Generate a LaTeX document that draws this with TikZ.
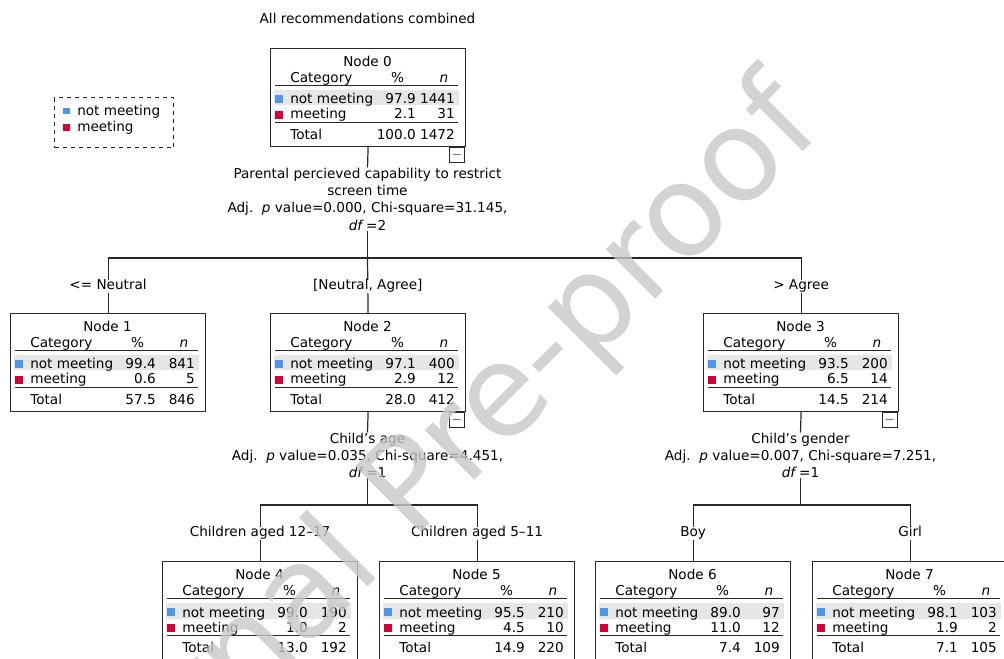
\documentclass[tikz,border=0pt]{standalone}
\usepackage{fontspec}
\setmainfont{DejaVu Sans}
\definecolor{notmeet}{RGB}{80,150,232}
\definecolor{meet}{RGB}{214,0,52}
\definecolor{band}{RGB}{230,230,230}
\definecolor{rule}{RGB}{40,40,40}
\definecolor{wmgray}{RGB}{200,200,200}

\begin{document}
\begin{tikzpicture}[x=0.75pt,y=-0.75pt,
  every node/.style={inner sep=0pt,font=\fontsize{10.2}{13}\selectfont},
  box/.style={draw=rule,line width=0.9pt,minimum width=146.25pt,minimum height=73.5pt,anchor=north west},
  tline/.style={draw=rule,line width=1pt},
  conn/.style={draw=rule,line width=0.9pt},
  sq/.style={minimum size=5pt},
  lab/.style={fill=white,inner xsep=1pt,text height=7.5pt,text depth=2.25pt},
  split/.style={align=center,anchor=north},
  minus/.style={draw=rule,line width=0.8pt,minimum size=11.25pt,anchor=north east},
  legbox/.style={draw=rule,dashed,line width=0.8pt,minimum width=89.25pt,minimum height=37.5pt,anchor=north west},
  wmark/.style={text=wmgray,opacity=0.8,font=\fontsize{96}{96}\selectfont}]

  \useasboundingbox (0,0) rectangle (1004,659);
  \clip (0,0) rectangle (1004,659);

  \node[anchor=base] (title) at (367.5,24) {All recommendations combined};

  % legend
  \node[legbox] (leg) at (54,97) {};
  \node[sq,fill=notmeet] (q1) at (66.7,111) {};
  \node[sq,fill=meet] (q2) at (66.7,127.5) {};
  \node[anchor=base west] (t1) at (77,115.5) {not meeting};
  \node[anchor=base west] (t2) at (77,132) {meeting};

  % category boxes
  \foreach \k/\x/\y/\pa/\na/\pb/\nb/\ta/\tn in {
      0/270/48/97.9/1441/2.1/31/100.0/1472,
      1/10/313/99.4/841/0.6/5/57.5/846,
      2/270/313/97.1/400/2.9/12/28.0/412,
      3/703/313/93.5/200/6.5/14/14.5/214,
      4/162/561/99.0/190/1.0/2/13.0/192,
      5/379/561/95.5/210/4.5/10/14.9/220,
      6/595/561/89.0/97/11.0/12/7.4/109,
      7/812/561/98.1/103/1.9/2/7.1/105}{
    \node[box] (n\k) at (\x,\y) {};
    \begin{scope}[shift={(n\k.north west)}]
      \fill[band] (4,42) rectangle (189,57.5);
      \draw[tline] (5,37.5) -- (188,37.5) (5,74.5) -- (188,74.5);
      \fill[notmeet] (5,47) rectangle (13,55);
      \fill[meet] (5,63) rectangle (13,71);
      \node[anchor=base] (n\k-h) at (97.5,18.5) {Node \k};
      \node[anchor=base west] (n\k-c) at (20,34.5) {Category};
      \node[anchor=base] (n\k-p) at (127.5,34.5) {\%};
      \node[anchor=base east] (n\k-n) at (178.5,34.5) {\textit{n}};
      \node[anchor=base west] (n\k-a) at (20,56) {not meeting};
      \node[anchor=base east] (n\k-pa) at (146,56) {\pa};
      \node[anchor=base east] (n\k-na) at (185,56) {\na};
      \node[anchor=base west] (n\k-b) at (20,71) {meeting};
      \node[anchor=base east] (n\k-pb) at (146,71) {\pb};
      \node[anchor=base east] (n\k-nb) at (185,71) {\nb};
      \node[anchor=base west] (n\k-t) at (20,91.5) {Total};
      \node[anchor=base east] (n\k-pt) at (146,91.5) {\ta};
      \node[anchor=base east] (n\k-nt) at (185,91.5) {\tn};
    \end{scope}
  }
  \foreach \k in {0,2,3}
    \node[minus,xshift=-1.1pt] (m\k) at (n\k.south east) {$-$};

  % first split
  \node[split] (s0) at (367.5,167.5) {Parental percieved capability to restrict\\
    screen time\\Adj.\ \ \textit{p} value=0.000, Chi-square=31.145,\\\textit{df}\,=2};
  \coordinate (b0) at (367.5,258);
  \draw[conn] (n0.south) -- (s0.north);
  \draw[conn] (s0.south) -- (b0);
  \draw[conn] (b0) -| node[lab,pos=0.755] (e1) {<= Neutral} (n1.north);
  \draw[conn] (b0) -- node[lab,pos=0.51] (e2) {[Neutral, Agree]} (n2.north);
  \draw[conn] (b0) -| node[lab,pos=0.755] (e3) {> Agree} (n3.north);

  % second level
  \node[split] (s2) at (367.5,432.5) {Child's age\\
    Adj.\ \ \textit{p} value=0.035, Chi-square=4.451,\\\textit{df}\,=1};
  \coordinate (b2) at (367.5,505);
  \draw[conn] (n2.south) -- (s2.north);
  \draw[conn] (s2.south) -- (b2);
  \draw[conn] (b2) -| node[lab,pos=0.75] (e4) {Children aged 12–17} (n4.north);
  \draw[conn] (b2) -| node[lab,pos=0.75] (e5) {Children aged 5–11} (n5.north);

  \node[split] (s3) at (800.5,432.5) {Child's gender\\
    Adj.\ \ \textit{p} value=0.007, Chi-square=7.251,\\\textit{df}\,=1};
  \coordinate (b3) at (800.5,505);
  \draw[conn] (n3.south) -- (s3.north);
  \draw[conn] (s3.south) -- (b3);
  \draw[conn] (b3) -| node[lab,pos=0.75] (e6) {Boy} (n6.north);
  \draw[conn] (b3) -| node[lab,pos=0.75] (e7) {Girl} (n7.north);

  % watermark
  \node[wmark,rotate=45,anchor=east] (wm) at (800,105) {Journal Pre-proof};
\end{tikzpicture}
\end{document}
